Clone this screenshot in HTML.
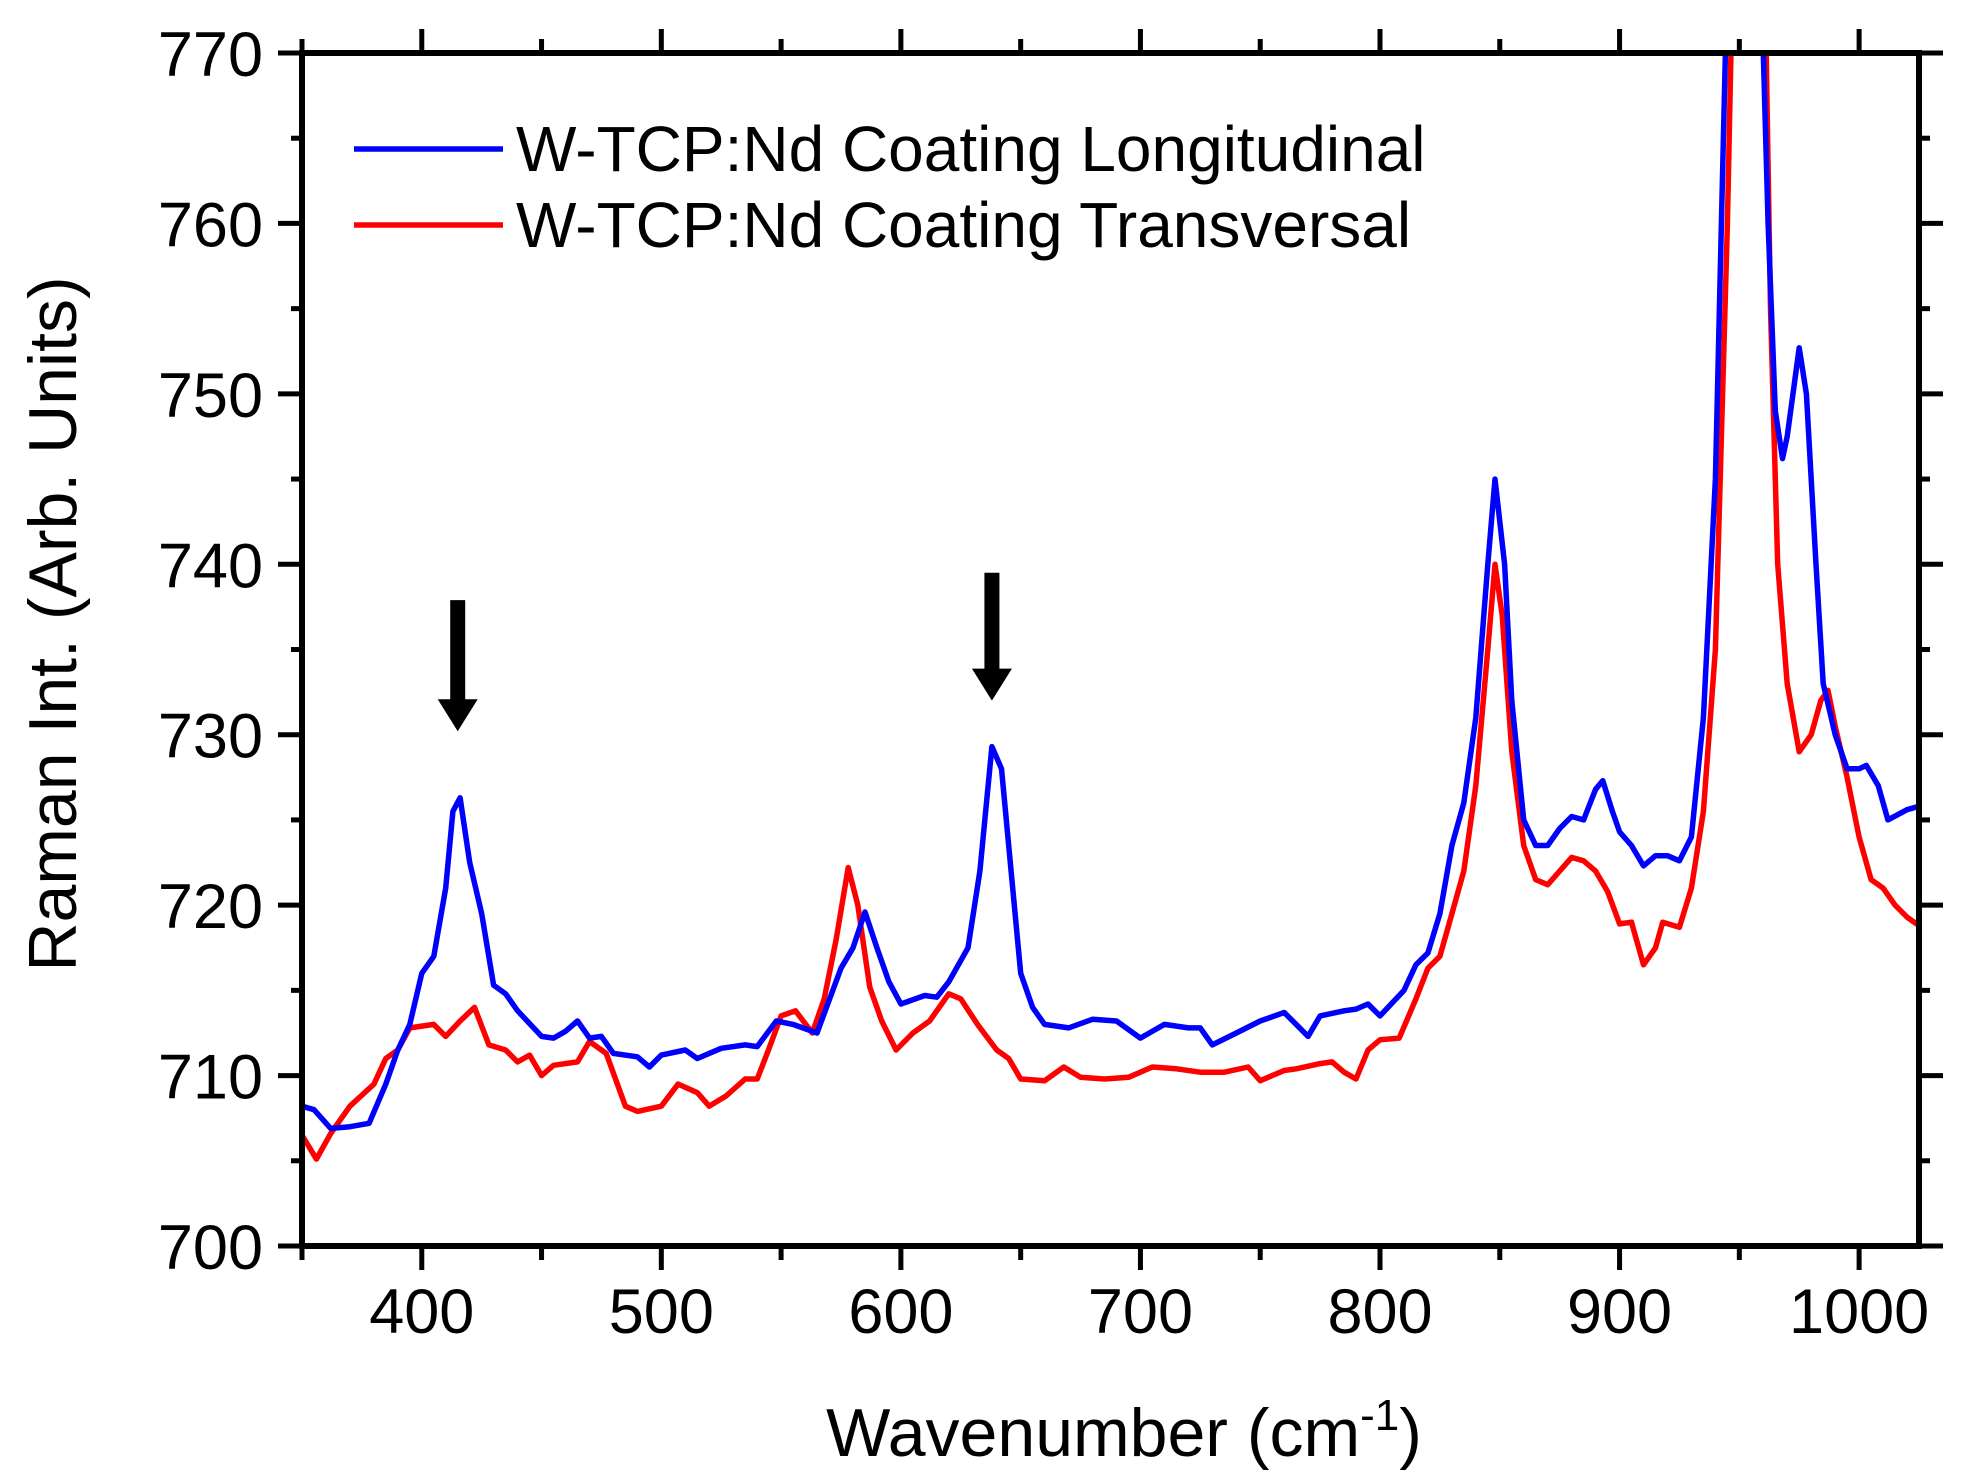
<!DOCTYPE html>
<html><head><meta charset="utf-8"><style>
html,body{margin:0;padding:0;background:#fff;}
svg{display:block;font-family:"Liberation Sans",Arial,sans-serif;}
</style></head><body>
<svg id="chart" width="1979" height="1482" viewBox="0 0 1979 1482">
<defs><clipPath id="pc"><rect x="302" y="53" width="1617" height="1193"/></clipPath></defs>
<g id="series" clip-path="url(#pc)"></g>
<g id="axes"></g>
<g id="legend">
<line x1="354" y1="149" x2="503" y2="149" stroke="#0000ff" stroke-width="5.5"/>
<text x="516" y="171" font-size="64">W-TCP:Nd Coating Longitudinal</text>
<line x1="354" y1="225" x2="503" y2="225" stroke="#ff0000" stroke-width="5.5"/>
<text x="516" y="247" font-size="64">W-TCP:Nd Coating Transversal</text>
</g>
<text x="1124" y="1456" font-size="68" text-anchor="middle">Wavenumber (cm<tspan dy="-26" font-size="44">-1</tspan><tspan dy="26">)</tspan></text>
<text transform="translate(76,624) rotate(-90)" font-size="68" text-anchor="middle">Raman Int. (Arb. Units)</text>
</svg>
<script>
const blueX=[350,355,362,370,378,385,390,395,400,405,410,413,416,420,425,430,435,440,450,455,460,465,470,475,480,490,495,500,510,515,525,535,540,548,555,565,575,580,585,590,595,600,610,615,620,628,633,638,642,646,650,655,660,670,680,690,700,710,720,725,730,740,750,760,765,770,775,785,790,795,800,810,815,820,825,830,835,840,845,848,852,855,860,865,870,875,880,885,890,893,897,900,905,910,915,920,925,930,935,940,945,950,958,962,965,968,970,975,978,982,985,990,995,1000,1003,1008,1012,1020,1025];
const blueY=[708.2,708,706.9,707,707.2,709.5,711.5,713,716,717,721,725.5,726.3,722.5,719.5,715.3,714.8,713.8,712.3,712.2,712.6,713.2,712.2,712.3,711.3,711.1,710.5,711.2,711.5,711,711.6,711.8,711.7,713.2,713,712.5,716.3,717.5,719.6,717.5,715.5,714.2,714.7,714.6,715.5,717.5,722,729.3,728,722,716,714,713,712.8,713.3,713.2,712.2,713,712.8,712.8,711.8,712.5,713.2,713.7,713,712.3,713.5,713.8,713.9,714.2,713.5,715,716.5,717.2,719.5,723.5,726,731,740,745,740,732,725,723.5,723.5,724.5,725.2,725,726.8,727.3,725.5,724.3,723.5,722.3,722.9,722.9,722.6,724,731,745,775,800,780,760,749,746.2,747.5,752.7,750,740,733,730,728,728,728.2,727,725,725.6,725.8];
const redX=[350,356,362,370,380,385,390,395,405,410,416,422,428,435,440,445,450,455,465,470,477,485,490,500,507,515,520,527,535,540,545,550,556,563,568,573,578,582,587,592,598,605,612,620,625,632,640,645,650,660,668,675,685,695,705,715,725,735,745,750,760,765,775,780,785,790,795,800,808,815,820,825,830,835,840,845,848,851,855,860,865,870,875,880,885,890,895,900,905,910,915,918,925,930,935,940,945,948,955,960,963,966,970,975,980,984,987,990,995,1000,1005,1010,1015,1020,1025];
const redY=[706.5,705.1,706.6,708.2,709.5,711,711.5,712.8,713,712.3,713.2,714,711.8,711.5,710.8,711.2,710,710.6,710.8,712,711.3,708.2,707.9,708.2,709.5,709,708.2,708.8,709.8,709.8,711.6,713.5,713.8,712.5,714.5,718,722.2,720,715.2,713.2,711.5,712.5,713.2,714.8,714.5,713,711.5,711,709.8,709.7,710.5,709.9,709.8,709.9,710.5,710.4,710.2,710.2,710.5,709.7,710.3,710.4,710.7,710.8,710.2,709.8,711.5,712.1,712.2,714.5,716.3,717,719.5,722,727,735,740,737,729,723.5,721.5,721.2,722,722.8,722.6,722,720.8,718.9,719,716.5,717.5,719,718.7,721,725.5,735,760,780,800,780,755,740,733,729,730,732,732.6,730.5,727.5,724,721.5,721,720,719.3,718.8];
const xTicks=[400,500,600,700,800,900,1000];
const yTicks=[700,710,720,730,740,750,760,770];
const arrowXs=[415,638];
const arrowTops=[737.9,739.5];
const arrowTips=[730.2,732];

const X0=302,X1=1919,Y0=1246,Y1=53,XMIN=350,XMAX=1025,YMIN=700,YMAX=770;
const sx=v=>X0+(v-XMIN)/(XMAX-XMIN)*(X1-X0);
const sy=v=>Y0-(v-YMIN)/(YMAX-YMIN)*(Y0-Y1);
const NS='http://www.w3.org/2000/svg';
function mk(t,a,p){const e=document.createElementNS(NS,t);for(const k in a)e.setAttribute(k,a[k]);p.appendChild(e);return e;}
const S=document.getElementById('series'),A=document.getElementById('axes');
function line(xs,ys,c,name){
  const d=xs.map((x,i)=>(i?'L':'M')+sx(x).toFixed(1)+','+sy(ys[i]).toFixed(1)).join('');
  const p=mk('path',{d:d,fill:'none',stroke:c,'stroke-width':5.5,'stroke-linejoin':'round'},S);
  
  
}
line(redX,redY,'#ff0000','series-transversal');
line(blueX,blueY,'#0000ff','series-longitudinal');
arrowXs.forEach((ax,i)=>{
  const x=sx(ax),t=sy(arrowTops[i]),b=sy(arrowTips[i]);
  const g=mk('path',{d:`M${x-7.5},${t}L${x+7.5},${t}L${x+7.5},${b-32}L${x+20},${b-32}L${x},${b}L${x-20},${b-32}L${x-7.5},${b-32}Z`,fill:'#000'},A);
  
  
});
const fr=mk('rect',{x:X0,y:Y1,width:X1-X0,height:Y0-Y1,fill:'none',stroke:'#000','stroke-width':6},A);


for(let v=350;v<=1025;v+=50){
  const maj=v%100===0,L=maj?24:14,x=sx(v);
  mk('line',{x1:x,y1:Y0,x2:x,y2:Y0+L,stroke:'#000','stroke-width':5},A);
  mk('line',{x1:x,y1:Y1,x2:x,y2:Y1-L,stroke:'#000','stroke-width':5},A);
}
xTicks.forEach(v=>{
  const t=mk('text',{x:sx(v),y:1333,'font-size':63,'text-anchor':'middle'},A);
  t.textContent=v;
  
  
});
for(let v=700;v<=770;v+=5){
  const maj=v%10===0,L=maj?24:11,y=sy(v);
  mk('line',{x1:X0,y1:y,x2:X0-L,y2:y,stroke:'#000','stroke-width':5},A);
  mk('line',{x1:X1,y1:y,x2:X1+L,y2:y,stroke:'#000','stroke-width':5},A);
}
yTicks.forEach(v=>{
  const t=mk('text',{x:263,y:sy(v)+23,'font-size':63,'text-anchor':'end'},A);
  t.textContent=v;
  
  
});
</script>
</body></html>
